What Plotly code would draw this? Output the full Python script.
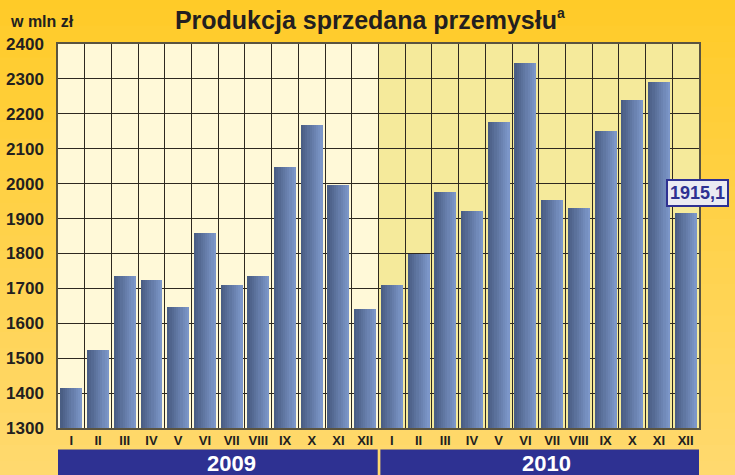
import plotly.graph_objects as go

# ---- data ----
months = ["I", "II", "III", "IV", "V", "VI", "VII", "VIII", "IX", "X", "XI", "XII"]
years = ["2009", "2010"]
values_2009 = [1414, 1524, 1736, 1725, 1648, 1858, 1711, 1734, 2049, 2169, 1995, 1640]
values_2010 = [1711, 1798, 1975, 1921, 2178, 2347, 1952, 1929, 2151, 2240, 2292, 1915.1]
y_ticks = [1300, 1400, 1500, 1600, 1700, 1800, 1900, 2000, 2100, 2200, 2300, 2400]
title_text = "Produkcja sprzedana przemysłu<sup><span style='font-size:14px'>a</span></sup>"
unit_text = "w mln zł"

values = values_2009 + values_2010
n = len(values)
xs = list(range(n))
ticktext = months + months

fig = go.Figure()

# gradient-like bars: several narrow overlaid slices of each bar
N = 10
bar_w = 0.82
c0 = (74, 94, 132)
c1 = (124, 150, 200)
for i in range(N):
    t = i / (N - 1)
    col = "rgb(%d,%d,%d)" % tuple(round(a + (b - a) * t) for a, b in zip(c0, c1))
    fig.add_trace(go.Bar(
        x=xs, y=values,
        width=bar_w / N + 0.002,
        offset=-bar_w / 2 + i * bar_w / N,
        marker=dict(color=col, line=dict(width=0)),
        hoverinfo="skip", showlegend=False,
    ))

shapes = []
# paper background vertical gradient (bands)
top_c = (255, 203, 40)
bot_c = (255, 217, 110)
B = 30
y_lo, y_hi = -0.13, 1.13
for k in range(B):
    t = k / (B - 1)
    col = "rgb(%d,%d,%d)" % tuple(round(a + (b - a) * t) for a, b in zip(top_c, bot_c))
    ya = y_hi - (y_hi - y_lo) * k / B
    yb = y_hi - (y_hi - y_lo) * (k + 1) / B
    shapes.append(dict(type="rect", xref="paper", yref="paper", x0=-0.1, x1=1.1,
                       y0=yb - 0.002, y1=ya + 0.002, fillcolor=col,
                       line=dict(width=0), layer="below"))

# plot region backgrounds per year
shapes.append(dict(type="rect", xref="x", yref="paper", x0=-0.5, x1=11.5, y0=0, y1=1,
                   fillcolor="#FFF9D8", line=dict(width=0), layer="below"))
shapes.append(dict(type="rect", xref="x", yref="paper", x0=11.5, x1=23.5, y0=0, y1=1,
                   fillcolor="#F5EA9B", line=dict(width=0), layer="below"))

# year bands under the axis
shapes.append(dict(type="rect", xref="x", yref="paper", x0=-0.54, x1=11.47, y0=-0.13, y1=-0.0557,
                   fillcolor="#2E3192", line=dict(width=0), layer="above"))
shapes.append(dict(type="rect", xref="x", yref="paper", x0=11.57, x1=23.56, y0=-0.13, y1=-0.0557,
                   fillcolor="#2E3192", line=dict(width=0), layer="above"))

font_main = "Liberation Sans, Arial"
annotations = [
    dict(x=6.0, y=-0.092, xref="x", yref="paper", text=years[0], showarrow=False,
         font=dict(family=font_main, size=22, color="white", weight="bold"),
         xanchor="center", yanchor="middle"),
    dict(x=17.8, y=-0.092, xref="x", yref="paper", text=years[1], showarrow=False,
         font=dict(family=font_main, size=22, color="white", weight="bold"),
         xanchor="center", yanchor="middle"),
    dict(x=xs[-1], y=values[-1], xref="x", yref="y",
         text=("%.1f" % values[-1]).replace(".", ","), showarrow=False,
         font=dict(family=font_main, size=18, color="#2E3192", weight="bold"),
         bgcolor="#EBEBF2", bordercolor="#2E3192", borderwidth=2, borderpad=2,
         xanchor="center", yanchor="bottom", xshift=12, yshift=6),
    dict(x=-50 / 641.3, y=1.0, xref="paper", yref="paper", text=unit_text, showarrow=False,
         font=dict(family=font_main, size=16, color="#231F20", weight="bold"),
         xanchor="left", yanchor="bottom", yshift=12),
]

fig.update_layout(
    width=735, height=475,
    margin=dict(l=58, r=36, t=44, b=47, autoexpand=False),
    paper_bgcolor="#FFD24F",
    plot_bgcolor="rgba(0,0,0,0)",
    barmode="overlay",
    bargap=0,
    showlegend=False,
    title=dict(text=title_text, x=(370 - 58) / 641.3, xref="paper", xanchor="center",
               y=1 - 20 / 475, yanchor="middle",
               font=dict(family=font_main, size=25, color="#231F20", weight="bold")),
    shapes=shapes,
    annotations=annotations,
    xaxis=dict(
        range=[-0.5, 23.5], tickmode="array", tickvals=xs, ticktext=ticktext,
        showgrid=False, zeroline=False, showline=True, mirror=True,
        linecolor="#5A5440", linewidth=1.5, ticks="", automargin=False,
        tickfont=dict(family=font_main, size=13, color="#231F20", weight="bold"),
        minor=dict(tickmode="array", tickvals=[i - 0.5 for i in range(n + 1)],
                   showgrid=True, gridcolor="#2E2920", gridwidth=1.3, ticks=""),
        fixedrange=True,
    ),
    yaxis=dict(
        range=[1300, 2400], tickmode="array", tickvals=y_ticks,
        showgrid=True, gridcolor="#2E2920", gridwidth=1.3,
        zeroline=False, showline=True, mirror=True, linecolor="#5A5440", linewidth=1.5,
        ticks="", ticklabelstandoff=9, automargin=False,
        tickfont=dict(family=font_main, size=17, color="#231F20", weight="bold"),
        fixedrange=True,
    ),
)

fig.write_html(
    "out.html",
    config={"displayModeBar": False},
    post_script="document.body.style.margin='0px';document.body.style.overflow='hidden';",
)
